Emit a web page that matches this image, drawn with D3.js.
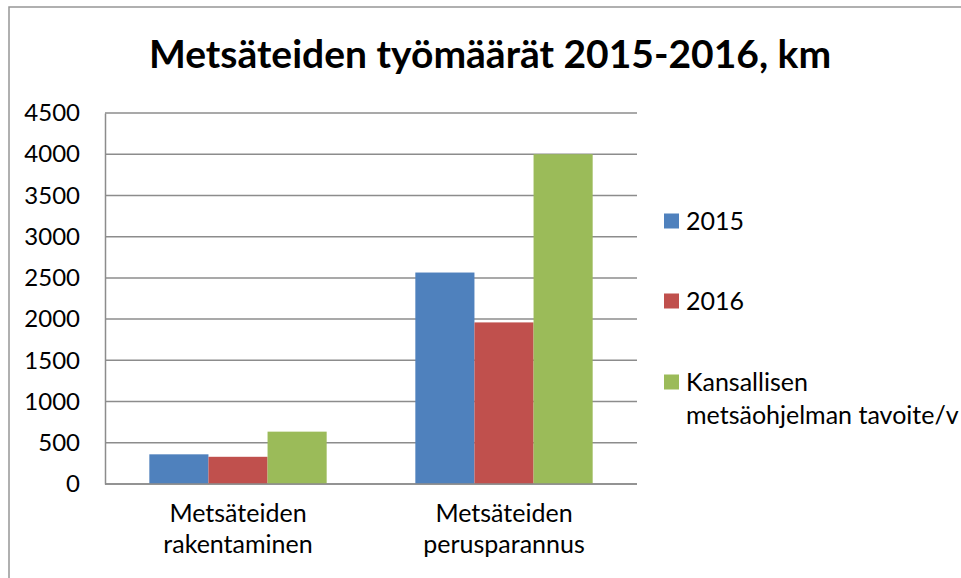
<!DOCTYPE html>
<html>
<head>
<meta charset="utf-8">
<script src="https://cdn.jsdelivr.net/npm/d3@7"></script>
<style>
  body { margin: 0; background: #fff; }
  text { font-family: Lato, "Open Sans", sans-serif; fill: #000; }
</style>
</head>
<body>
<svg id="chart"></svg>
<script>
// data
const categories = [["Metsäteiden", "rakentaminen"], ["Metsäteiden", "perusparannus"]];
const seriesNames = ["2015", "2016", "Kansallisen metsäohjelman tavoite/v"];
const values2015 = [360, 2565];
const values2016 = [330, 1960];
const valuesTarget = [635, 4000];
const yTicks = [0, 500, 1000, 1500, 2000, 2500, 3000, 3500, 4000, 4500];
const colors = ["#4f81bd", "#c0504d", "#9bbb59"];

const width = 961;
const height = 578;
const plot = { left: 105, right: 637, top: 113, bottom: 484 };

let svg = d3.select("#chart").attr("width", width).attr("height", height);

// outer chart border (runs off the right and bottom edge)
svg.append("rect")
  .attr("x", 9).attr("y", 7)
  .attr("width", 1000).attr("height", 1000)
  .attr("fill", "none")
  .attr("stroke", "#969696")
  .attr("stroke-width", 1.5);

svg.append("text")
  .text("Metsäteiden työmäärät 2015-2016, km")
  .attr("x", 490).attr("y", 68)
  .attr("text-anchor", "middle")
  .style("font-weight", "bold")
  .style("font-size", "39px");

let yScale = d3.scaleLinear().domain([0, 4500]).range([plot.bottom, plot.top]);
let xScale = d3.scaleBand()
  .domain(d3.range(categories.length))
  .range([plot.left, plot.right])
  .paddingInner(1 / 3)
  .paddingOuter(1 / 6);
let xInner = d3.scaleBand().domain(d3.range(seriesNames.length)).range([0, xScale.bandwidth()]);

// gridlines
svg.append("g")
  .selectAll("line")
  .data(yTicks)
  .enter()
  .append("line")
  .attr("x1", plot.left).attr("x2", plot.right)
  .attr("y1", (d) => yScale(d)).attr("y2", (d) => yScale(d))
  .attr("stroke", "#8c8c8c")
  .attr("stroke-width", 1.5);

// y axis
let yAxis = d3.axisLeft(yScale).tickValues(yTicks).tickSize(0).tickPadding(25).tickFormat(d3.format("d"));
let yg = svg.append("g")
  .attr("id", "y-axis")
  .attr("transform", "translate(" + plot.left + ",0)")
  .call(yAxis);
yg.select(".domain").attr("stroke", "#8c8c8c").attr("stroke-width", 1.5);
yg.selectAll("text").style("font-size", "24px").attr("fill", "#000");

// bars
const allSeries = [values2015, values2016, valuesTarget];
allSeries.forEach((vals, s) => {
  svg.append("g")
    .selectAll("rect")
    .data(vals)
    .enter()
    .append("rect")
    .attr("x", (d, i) => xScale(i) + xInner(s))
    .attr("width", xInner.bandwidth())
    .attr("y", (d) => yScale(d))
    .attr("height", (d) => yScale(0) - yScale(d))
    .attr("fill", colors[s]);
});

// baseline on top of the bars
svg.append("line")
  .attr("x1", plot.left).attr("x2", plot.right)
  .attr("y1", yScale(0)).attr("y2", yScale(0))
  .attr("stroke", "#8c8c8c")
  .attr("stroke-width", 1.5);

// category labels
categories.forEach((lines, i) => {
  let t = svg.append("text")
    .attr("x", xScale(i) + xScale.bandwidth() / 2)
    .attr("y", 522)
    .attr("text-anchor", "middle")
    .style("font-size", "25px");
  lines.forEach((l, j) => {
    t.append("tspan")
      .attr("x", xScale(i) + xScale.bandwidth() / 2)
      .attr("dy", j == 0 ? 0 : 31)
      .text(l);
  });
});

// legend
const legendY = [221, 301, 382];
const legendLines = [["2015"], ["2016"], ["Kansallisen", "metsäohjelman tavoite/v"]];
legendLines.forEach((lines, i) => {
  svg.append("rect")
    .attr("x", 664).attr("y", legendY[i] - 7.5)
    .attr("width", 15).attr("height", 15)
    .attr("fill", colors[i]);
  let t = svg.append("text")
    .attr("x", 686)
    .attr("y", legendY[i] + 9)
    .style("font-size", "25px");
  lines.forEach((l, j) => {
    t.append("tspan").attr("x", 686).attr("dy", j == 0 ? 0 : 33).text(l);
  });
});
</script>
</body>
</html>
